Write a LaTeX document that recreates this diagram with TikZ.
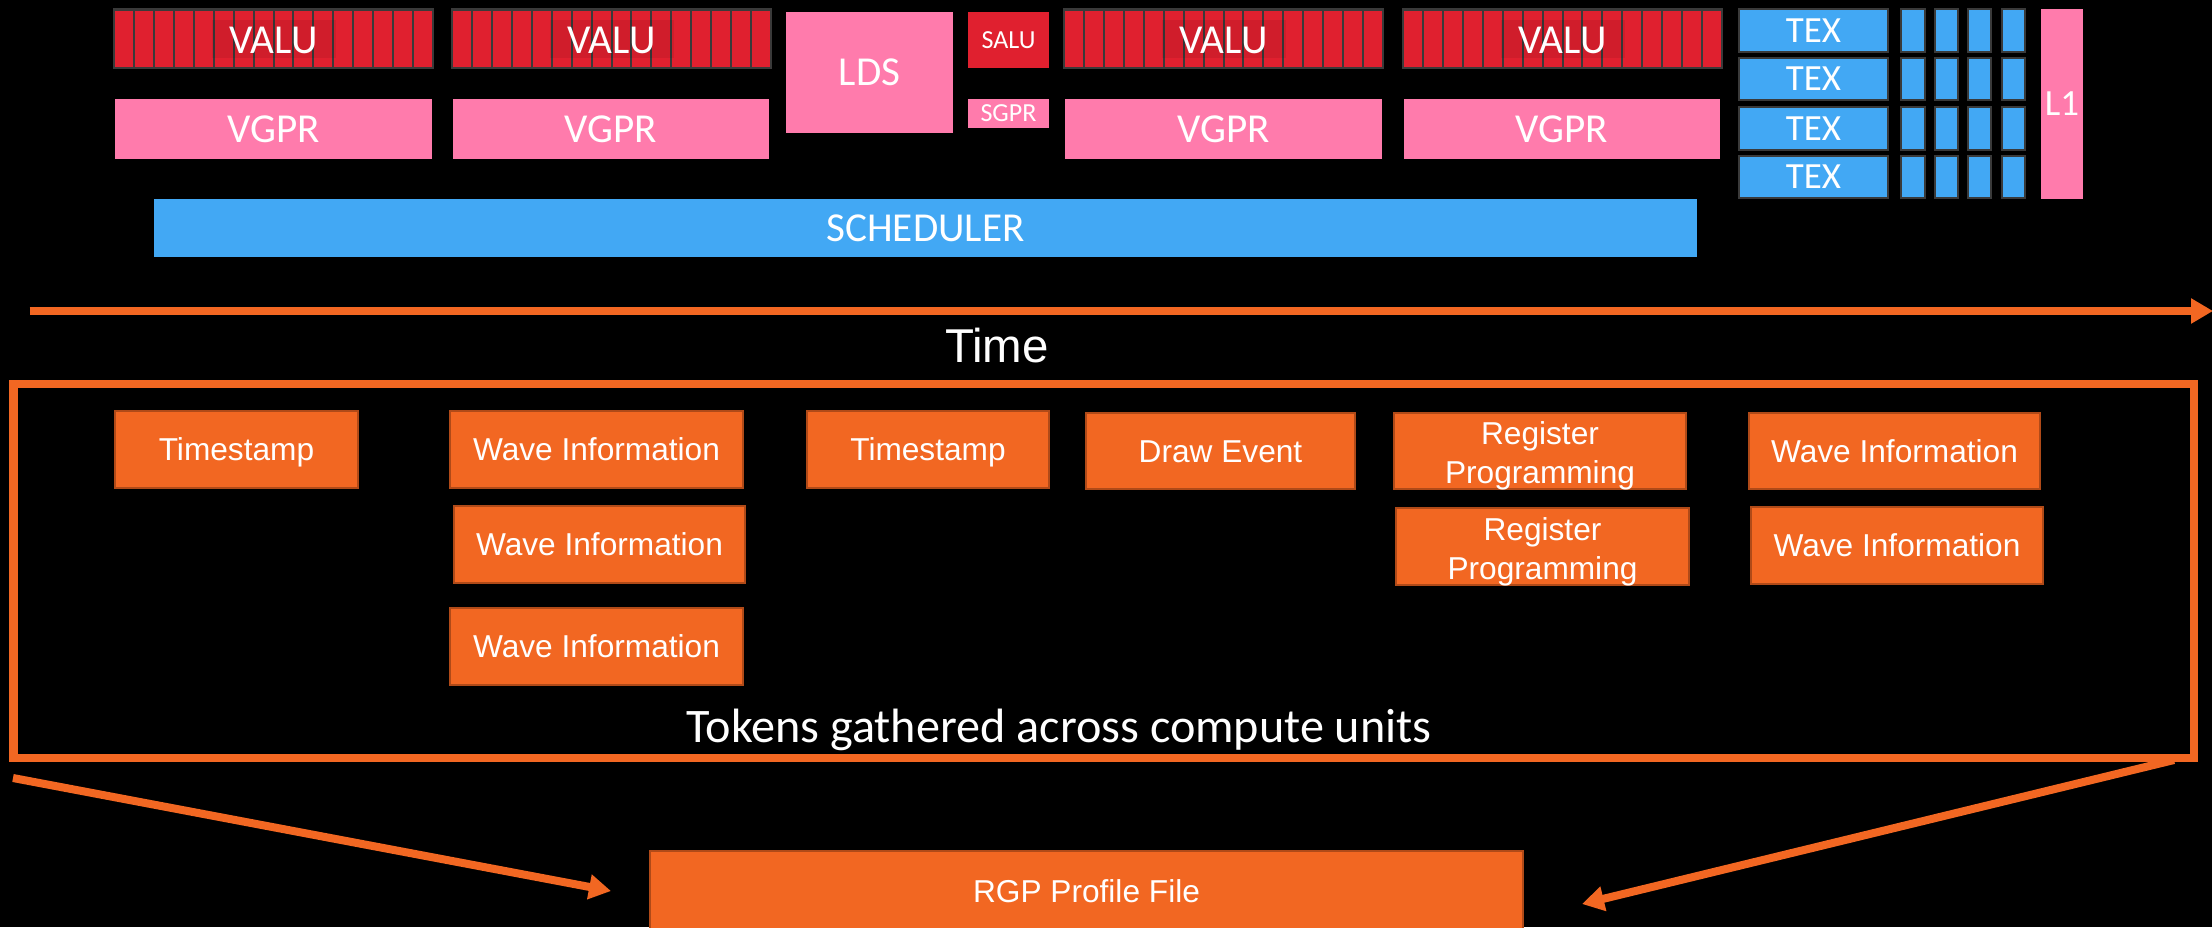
\documentclass[tikz,border=0pt]{standalone}
\usepackage{fontspec}
\setmainfont{Liberation Sans}
\newfontfamily\segfont{Carlito}
\usetikzlibrary{arrows.meta,fit,calc}
\definecolor{valured}{HTML}{E0202F}
\definecolor{pinkc}{HTML}{FF7BAC}
\definecolor{bluec}{HTML}{42A8F4}
\definecolor{orangec}{HTML}{F26722}
\definecolor{edgegray}{HTML}{3A3A3A}
\definecolor{tokedge}{HTML}{B04A18}
\tikzset{
  blk/.style={inner sep=0pt, outer sep=0pt},
  wtxt/.style={inner sep=0pt, outer sep=0pt, text=white, text depth=0pt},
  segbig/.style={wtxt, font=\segfont\fontsize{11.7}{14}\selectfont, text height=7.4pt},
  segmid/.style={wtxt, font=\segfont\fontsize{10.5}{12.6}\selectfont, text height=6.6pt},
  segsmall/.style={wtxt, font=\segfont\fontsize{7.4}{9}\selectfont, text height=4.7pt},
  tokfont/.style={wtxt, font=\fontsize{9}{11.1}\selectfont, text height=6.45pt},
  toktwo/.style={inner sep=0pt, outer sep=0pt, text=white, align=center,
    font=\fontsize{9}{11.1}\selectfont},
  valubox/.style={blk, fill=edgegray},
  pinkbox/.style={blk, fill=pinkc},
  redbox/.style={blk, fill=valured},
  bluebox/.style={blk, fill=bluec},
  texbox/.style={blk, fill=bluec, draw=edgegray, line width=0.015cm},
  tokbox/.style={blk, fill=orangec, draw=tokedge, line width=0.02cm},
  framebox/.style={blk, draw=orangec, line width=0.08cm},
  bigarrow/.style={draw=orangec, line width=0.08cm,
    -{Triangle[length=0.22cm,width=0.24cm]}},
}
% #1 box style, #2 text style, #3 name, #4 corner, #5 corner, #6 text
\newcommand\labbox[6]{%
  \node[#1, fit={(#4)(#5)}] (#3) {};
  \node[#2] (#3t) at (#3.center) {#6};
}
\begin{document}
\begin{tikzpicture}[x=0.01cm, y=-0.01cm]
\fill[black] (0,0) rectangle (2212,927);
\useasboundingbox (0,0) rectangle (2212,927);

% ---- VALU blocks ----
\foreach \n/\x in {1/113, 2/451, 3/1063, 4/1402} {
  \node[valubox, fit={(\x,8)(\x+321,69)}] (valu\n) {};
  \foreach \i in {0,...,15}
    \fill[valured] ($(valu\n.north west)+(2+\i*19.94,3)$) rectangle ++(17.94,56);
  \fill[black, opacity=0.07] ($(valu\n.center)+(-62,-19)$) rectangle ++(124,38);
  \node[segbig] (valu\n t) at ($(valu\n.center)+(0,2)$) {VALU};
}

% ---- VGPR ----
\labbox{pinkbox}{segbig}{vgpr1}{115,99}{432,159}{VGPR}
\labbox{pinkbox}{segbig}{vgpr2}{453,99}{769,159}{VGPR}
\labbox{pinkbox}{segbig}{vgpr3}{1065,99}{1382,159}{VGPR}
\labbox{pinkbox}{segbig}{vgpr4}{1404,99}{1720,159}{VGPR}

% ---- LDS, SALU, SGPR ----
\labbox{pinkbox}{segbig}{lds}{786,12}{953,133}{LDS}
\labbox{redbox}{segsmall}{salu}{968,12}{1049,68}{SALU}
\labbox{pinkbox}{segsmall}{sgpr}{968,99}{1049,128}{SGPR}

% ---- Scheduler ----
\labbox{bluebox}{segbig}{sched}{154,199}{1697,257}{SCHEDULER}

% ---- TEX and L1 ----
\foreach \r/\ya/\yb in {1/9/52, 2/58/100, 3/107/150, 4/156/198} {
  \labbox{texbox}{segmid}{tex\r}{1739,\ya}{1888,\yb}{TEX}
  \node[texbox, fit={(1901,\ya)(1925,\yb)}] (sq\r a) {};
  \node[texbox, fit={(1935,\ya)(1958,\yb)}] (sq\r b) {};
  \node[texbox, fit={(1968,\ya)(1991,\yb)}] (sq\r c) {};
  \node[texbox, fit={(2002,\ya)(2025,\yb)}] (sq\r d) {};
}
\labbox{pinkbox}{segmid}{l1}{2041,9}{2083,199}{L1}

% ---- Time axis ----
\coordinate (t0) at (29.5,311);
\coordinate (t1) at (2213,311);
\draw[bigarrow] (t0) -- (t1);
\node[wtxt, font=\fontsize{13.5}{16}\selectfont, text height=9.7pt] (time) at (997,345) {Time};

% ---- Frame of tokens ----
\node[framebox, fit={(13.5,384)(2193.5,758)}] (frame) {};
\node[wtxt, font=\segfont\fontsize{13.7}{16}\selectfont, text height=8.6pt] (tokens) at (1059,727) {Tokens gathered across compute units};

% ---- Tokens ----
\labbox{tokbox}{tokfont}{ts1}{115,411}{358,488}{Timestamp}
\labbox{tokbox}{tokfont}{wi1}{450,411}{743,488}{Wave Information}
\labbox{tokbox}{tokfont}{wi2}{454,506}{745,583}{Wave Information}
\labbox{tokbox}{tokfont}{wi3}{450,608}{743,685}{Wave Information}
\labbox{tokbox}{tokfont}{ts2}{807,411}{1049,488}{Timestamp}
\labbox{tokbox}{tokfont}{de}{1086,413}{1355,489}{Draw Event}
\node[tokbox, fit={(1394,413)(1686,489)}] (rp1) {};
\node[toktwo] (rp1t) at ($(rp1.center)+(0,5)$) {Register\\Programming};
\node[tokbox, fit={(1396,508)(1689,585)}] (rp2) {};
\node[toktwo] (rp2t) at ($(rp2.center)+(0,5)$) {Register\\Programming};
\labbox{tokbox}{tokfont}{wi4}{1749,413}{2040,489}{Wave Information}
\labbox{tokbox}{tokfont}{wi5}{1751,507}{2043,584}{Wave Information}

% ---- Profile file ----
\labbox{tokbox}{tokfont}{rgp}{650,851}{1523,931}{RGP Profile File}

\coordinate (la) at (13,778);
\coordinate (lt) at (611,891);
\coordinate (ra) at (2174,760);
\coordinate (rt) at (1582,904);
\draw[bigarrow] (la) -- (lt);
\draw[bigarrow] (ra) -- (rt);
\end{tikzpicture}
\end{document}
